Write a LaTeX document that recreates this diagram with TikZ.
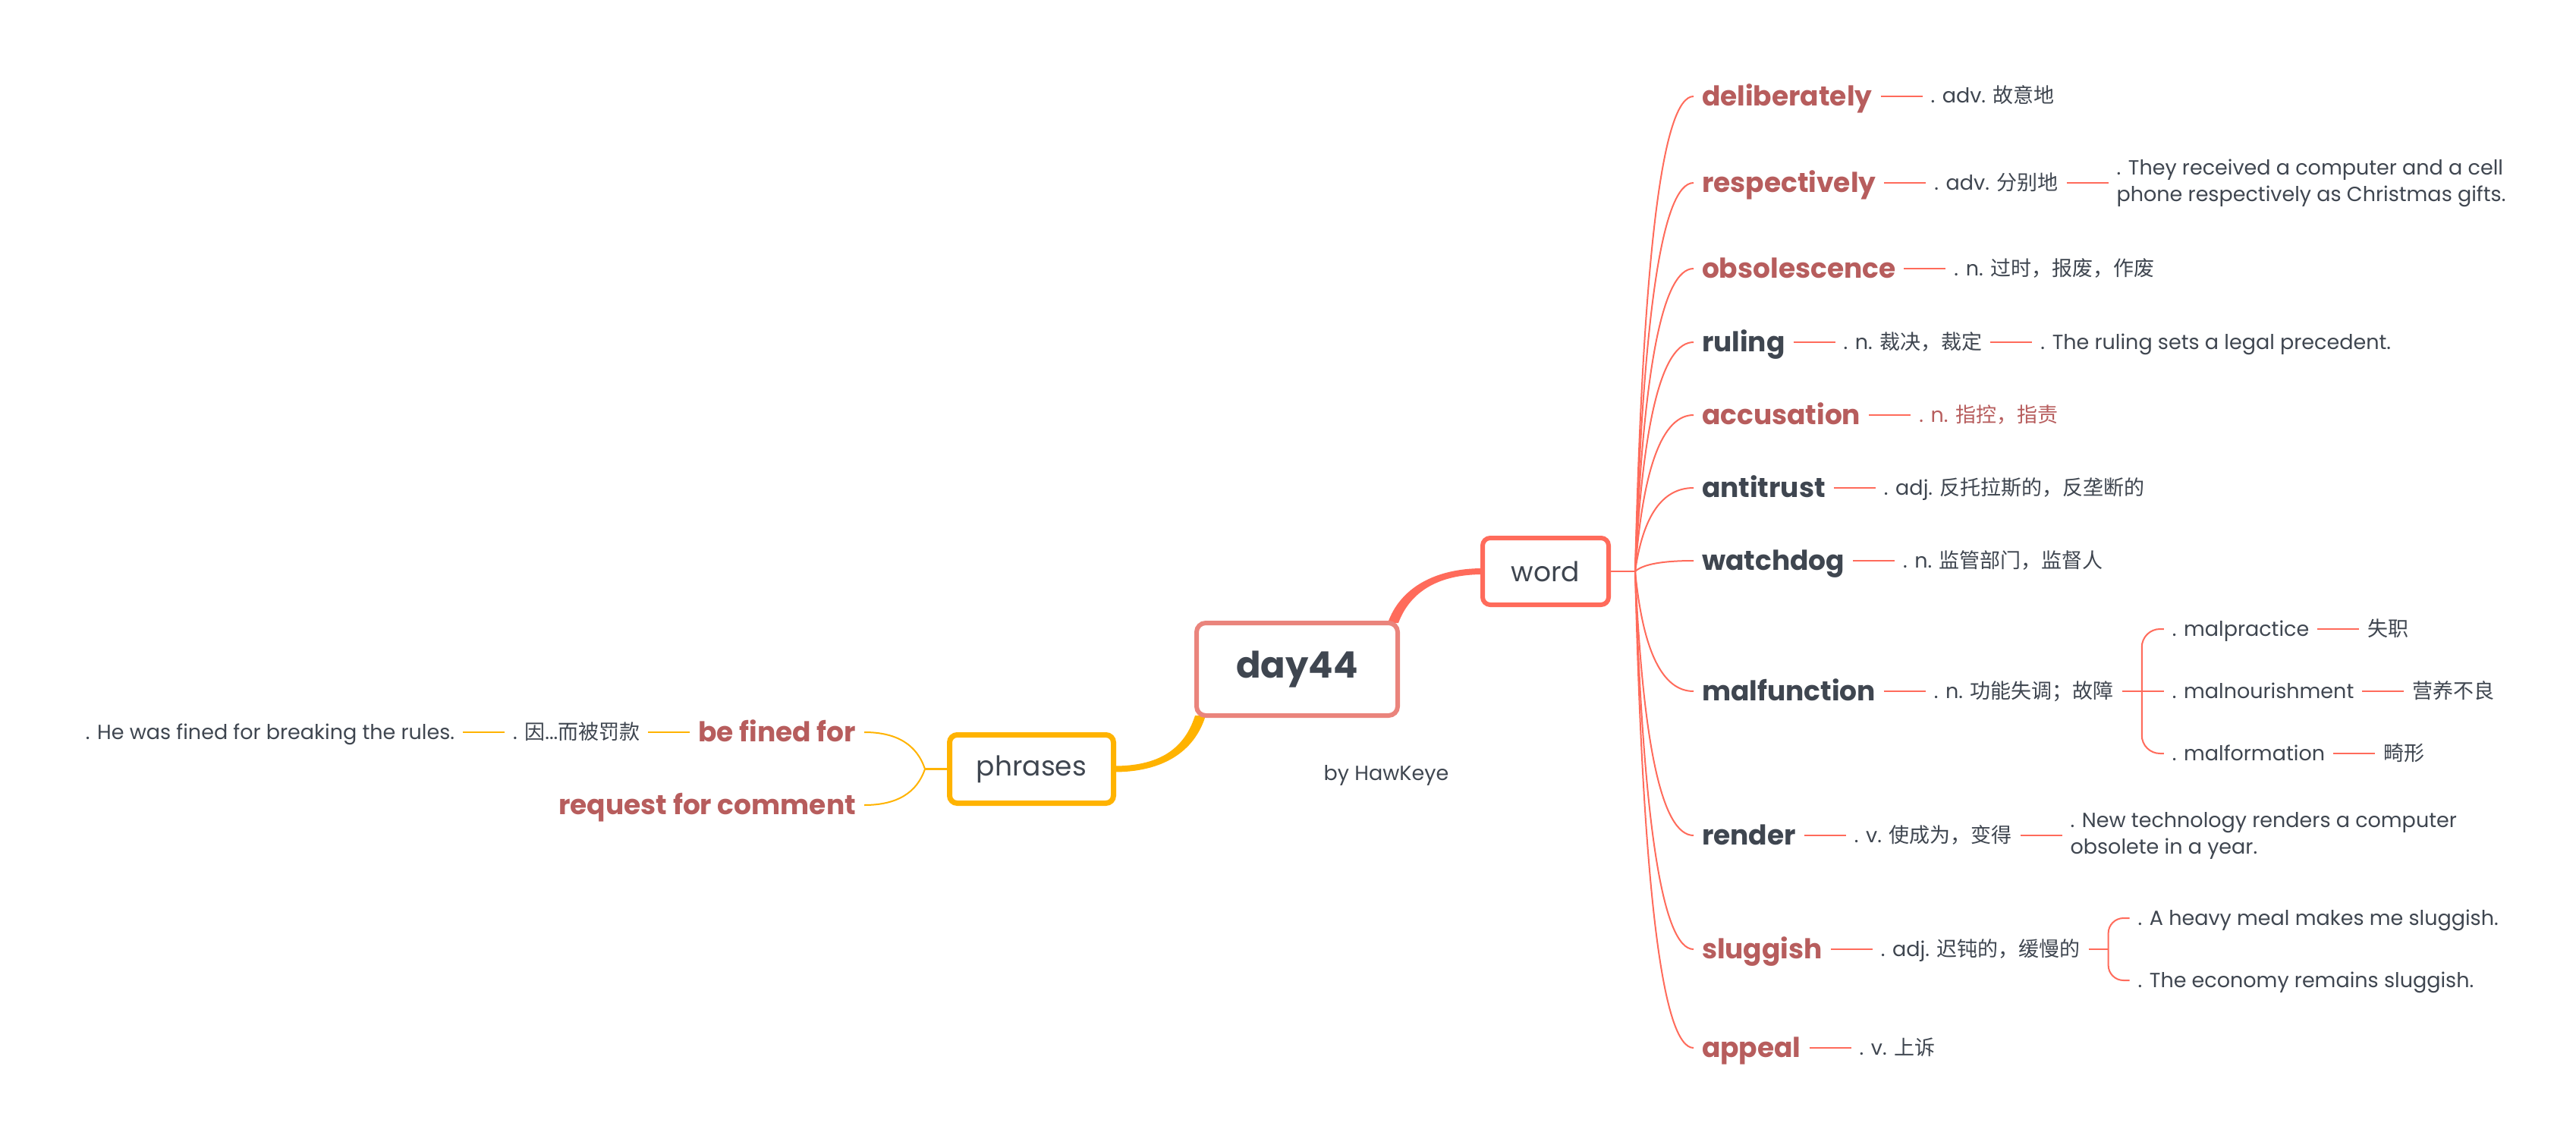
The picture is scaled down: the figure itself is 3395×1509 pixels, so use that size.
\documentclass[tikz,border=0pt]{standalone}
\usepackage{fontspec}
\setmainfont{Poppins}
\newfontfamily\cjkfont{Noto Sans CJK SC}
\newcommand{\zh}[1]{{\cjkfont #1}}
\usetikzlibrary{positioning,calc,backgrounds}
\definecolor{wred}{HTML}{B75D5D}
\definecolor{wdark}{HTML}{3F4650}
\definecolor{coral}{HTML}{FF6B5B}
\definecolor{salmon}{HTML}{EA847C}
\definecolor{amber}{HTML}{FFB300}
\tikzset{
  basenode/.style={inner xsep=5.5pt, inner ysep=0pt, outer sep=0pt},
  w1/.style={basenode, font=\fontsize{18}{22}\selectfont\bfseries, text height=12.5pt, text depth=0pt},
  wr/.style={w1, text=wred},
  wd/.style={w1, text=wdark},
  s1/.style={basenode, font=\fontsize{13.5}{17.5}\selectfont, text=wdark, text height=9pt, text depth=0pt},
  s2/.style={basenode, font=\fontsize{13.5}{17.5}\selectfont, text=wdark, align=left},
  rootbox/.style={draw=salmon, line width=3pt, rounded corners=6pt, fill=white, minimum width=132.5pt, minimum height=61pt, font=\fontsize{24}{28}\selectfont\bfseries, text=wdark},
  wordbox/.style={draw=coral, line width=3pt, rounded corners=5pt, fill=white, minimum width=83pt, minimum height=44pt, font=\fontsize{18}{22}\selectfont, text=wdark},
  phrbox/.style={draw=amber, line width=3.5pt, rounded corners=5pt, fill=white, minimum width=108pt, minimum height=45pt, font=\fontsize{18}{22}\selectfont, text=wdark},
  credit/.style={font=\fontsize{13.5}{17.5}\selectfont, text=wdark},
  cl/.style={draw=coral, line width=1.3pt},
  cf/.style={draw=coral, line width=1pt},
  al/.style={draw=amber, line width=1.3pt},
  af/.style={draw=amber, line width=1pt},
  fan/.style={to path={let \p1=(\tikztostart), \p2=(\tikztotarget) in
    .. controls ({\x1+0.1333*(\x2-\x1)},{\y1+0.6667*(\y2-\y1)}) and ({\x2-0.5333*(\x2-\x1)},\y2) .. (\tikztotarget)}},
}
\begin{document}
\begin{tikzpicture}[x=0.5pt,y=-0.5pt]
\useasboundingbox (0,0) rectangle (3395,1509);

% central nodes
\node[rootbox] (day44) at (1709.5,882) {day44};
\node[wordbox] (word) at (2037,753) {word};
\node[phrbox] (phr) at (1359.5,1013.5) {phrases};
\node[credit] (by) at (1827,1022) {by HawKeye};

% word branch, level 1
\coordinate (wh) at ($(word.east)+(32,0)$);
\node[wr, anchor=west] (w-del) at (2232,127) {deliberately};
\node[wr, anchor=west] (w-res) at (2232,241) {respectively};
\node[wr, anchor=west] (w-obs) at (2232,354) {obsolescence};
\node[wd, anchor=west] (w-rul) at (2232,451) {ruling};
\node[wr, anchor=west] (w-acc) at (2232,547) {accusation};
\node[wd, anchor=west] (w-ant) at (2232,643) {antitrust};
\node[wd, anchor=west] (w-wat) at (2232,739) {watchdog};
\node[wd, anchor=west] (w-mal) at (2232,911) {malfunction};
\node[wd, anchor=west] (w-ren) at (2232,1101) {render};
\node[wr, anchor=west] (w-slu) at (2232,1251) {sluggish};
\node[wr, anchor=west] (w-app) at (2232,1381) {appeal};

% word branch, level 2+
\node[s1, right=27.5pt of w-del] (m-del) {. adv. \zh{故意地}};
\node[s1, right=27.5pt of w-res] (m-res) {. adv. \zh{分别地}};
\node[s2, right=27.5pt of m-res] (e-res) {. They received a computer and a cell\\phone respectively as Christmas gifts.};
\node[s1, right=27.5pt of w-obs] (m-obs) {. n. \zh{过时，报废，作废}};
\node[s1, right=27.5pt of w-rul] (m-rul) {. n. \zh{裁决，裁定}};
\node[s1, right=27.5pt of m-rul] (e-rul) {. The ruling sets a legal precedent.};
\node[s1, text=wred, right=27.5pt of w-acc] (m-acc) {. n. \zh{指控，指责}};
\node[s1, right=27.5pt of w-ant] (m-ant) {. adj. \zh{反托拉斯的，反垄断的}};
\node[s1, right=27.5pt of w-wat] (m-wat) {. n. \zh{监管部门，监督人}};
\node[s1, right=27.5pt of w-mal] (m-mal) {. n. \zh{功能失调；故障}};
\coordinate (mh) at ($(m-mal.east)+(26,0)$);
\node[s1, anchor=west] (mp) at ($(mh)+(29,-82)$) {. malpractice};
\node[s1, anchor=west] (mn) at ($(mh)+(29,0)$) {. malnourishment};
\node[s1, anchor=west] (mf) at ($(mh)+(29,82)$) {. malformation};
\node[s1, right=27.5pt of mp] (mp-m) {\zh{失职}};
\node[s1, right=27.5pt of mn] (mn-m) {\zh{营养不良}};
\node[s1, right=27.5pt of mf] (mf-m) {\zh{畸形}};
\node[s1, right=27.5pt of w-ren] (m-ren) {. v. \zh{使成为，变得}};
\node[s2, right=27.5pt of m-ren] (e-ren) {. New technology renders a computer\\obsolete in a year.};
\node[s1, right=27.5pt of w-slu] (m-slu) {. adj. \zh{迟钝的，缓慢的}};
\coordinate (sh) at ($(m-slu.east)+(26,0)$);
\node[s1, anchor=west] (e-slu1) at ($(sh)+(28,-41)$) {. A heavy meal makes me sluggish.};
\node[s1, anchor=west] (e-slu2) at ($(sh)+(28,41)$) {. The economy remains sluggish.};
\node[s1, right=27.5pt of w-app] (m-app) {. v. \zh{上诉}};

% phrases branch
\coordinate (ph) at ($(phr.west)+(-29,0)$);
\node[wr, anchor=east] (p-fine) at (1139,965) {be fined for};
\node[wr, anchor=east] (p-req) at (1139,1061) {request for comment};
\node[s1, left=27.5pt of p-fine] (p-fine-m) {. \zh{因}...\zh{而被罚款}};
\node[s1, left=27.5pt of p-fine-m] (p-fine-e) {. He was fined for breaking the rules.};

\begin{pgfonlayer}{background}
\fill[white] (0,0) rectangle (3395,1509);
% main tapered connectors
\fill[coral] ($(day44.north east)+(-16,3)$) .. controls +(16,-46) and +(-63,0) .. ($(word.west)+(3,-4)$)
   -- ($(word.west)+(3,4)$) .. controls +(-60,0) and +(15,-40) .. ($(day44.north east)+(-2,3)$) -- cycle;
\fill[amber] ($(day44.south west)+(1,-3)$) .. controls +(-15,47) and +(56,0) .. ($(phr.east)+(-3,-4)$)
   -- ($(phr.east)+(-3,4)$) .. controls +(63,0) and +(-15,49) .. ($(day44.south west)+(15,-3)$) -- cycle;
% word fan
\draw[cl] (word.east) -- (wh);
\foreach \nm in {del,res,obs,rul,acc,ant,wat,mal,ren,slu,app}
  \draw[cf] (wh) to[fan] (w-\nm.west);
\foreach \a/\b in {w-del/m-del, w-res/m-res, m-res/e-res, w-obs/m-obs, w-rul/m-rul, m-rul/e-rul,
    w-acc/m-acc, w-ant/m-ant, w-wat/m-wat, w-mal/m-mal, mp/mp-m, mn/mn-m, mf/mf-m,
    w-ren/m-ren, m-ren/e-ren, w-slu/m-slu, w-app/m-app}
  \draw[cl] (\a.east) -- (\b.west);
\draw[cl] (m-mal.east) -- (mh) -- (mn.west);
\draw[cf, rounded corners=12pt] (mh) |- (mp.west);
\draw[cf, rounded corners=12pt] (mh) |- (mf.west);
\draw[cl] (m-slu.east) -- (sh);
\draw[cf, rounded corners=10pt] (sh) |- (e-slu1.west);
\draw[cf, rounded corners=10pt] (sh) |- (e-slu2.west);
% phrases fan
\draw[al] (phr.west) -- (ph);
\draw[af] (ph) to[fan] (p-fine.east);
\draw[af] (ph) to[fan] (p-req.east);
\draw[al] (p-fine.west) -- (p-fine-m.east);
\draw[al] (p-fine-m.west) -- (p-fine-e.east);
\end{pgfonlayer}
\end{tikzpicture}
\end{document}
